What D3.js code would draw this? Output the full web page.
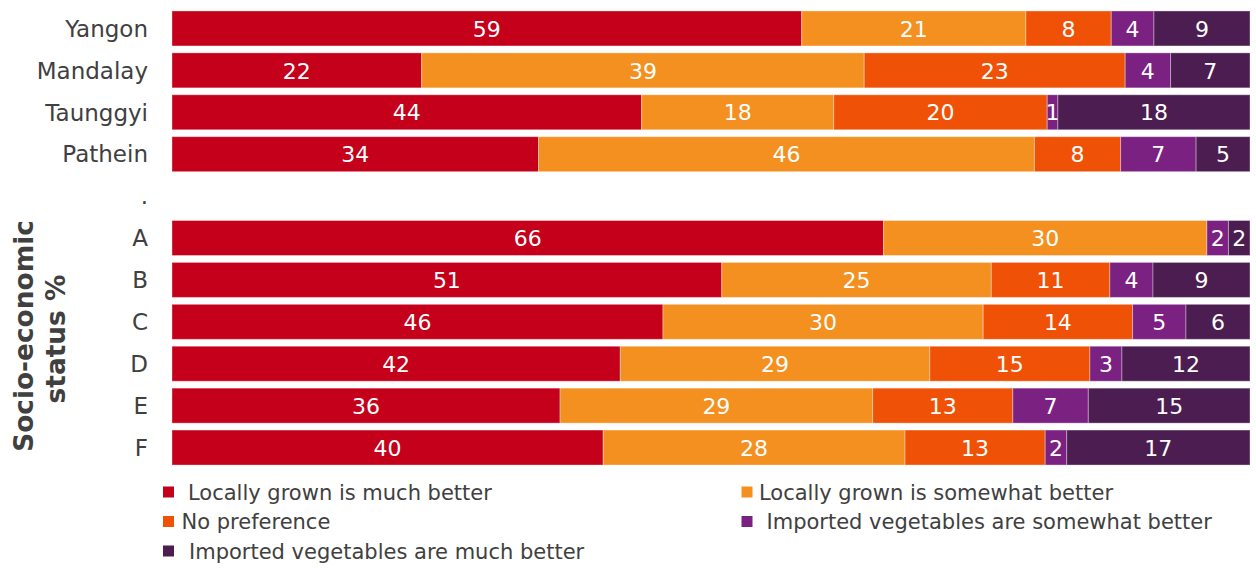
<!DOCTYPE html>
<html><head><meta charset="utf-8">
<script src="https://cdn.jsdelivr.net/npm/d3@7"></script>
<style>body{margin:0;background:#fff;} text{font-family:"DejaVu Sans",Verdana,sans-serif;}</style>
</head><body><svg id="c" width="1256" height="568"></svg>
<script>
const categories = ["Yangon","Mandalay","Taunggyi","Pathein",".","A","B","C","D","E","F"];
const seriesNames = ["Locally grown is much better","Locally grown is somewhat better","No preference","Imported vegetables are somewhat better","Imported vegetables are much better"];
const localMuch    = [59,22,44,34,null,66,51,46,42,36,40];
const localSome    = [21,39,18,46,null,30,25,30,29,29,28];
const noPref       = [8,23,20,8,null,0,11,14,15,13,13];
const importSome   = [4,4,1,7,null,2,4,5,3,7,2];
const importMuch   = [9,7,18,5,null,2,9,6,12,15,17];
const colors = ["#C4001A","#F39020","#EF5206","#7A2182","#4B1D50"];

const seriesVals = [localMuch, localSome, noPref, importSome, importMuch];
const rows = categories.map((c,i)=>{const o={cat:c}; seriesNames.forEach((s,j)=>o[s]=seriesVals[j][i]||0); o.empty = seriesVals[0][i]===null; return o;});
const svg = d3.select("#c");
const x = d3.scaleLinear().domain([0,1]).range([172,1250]);
const y = d3.scaleBand().domain(categories).range([7.5,468.5]).paddingInner(0.165).paddingOuter(0.0825);
const stack = d3.stack().keys(seriesNames).offset(d3.stackOffsetExpand);
const data = rows.filter(r=>!r.empty);
const stacked = stack(data);

const g = svg.append("g");
stacked.forEach((layer,li)=>{
  const gl = g.append("g");
  gl.selectAll("rect").data(layer.filter(d=>d[1]-d[0]>0)).join("rect")
    .attr("x",d=>x(d[0])).attr("width",d=>x(d[1])-x(d[0]))
    .attr("y",d=>y(d.data.cat)).attr("height",y.bandwidth())
    .attr("fill",colors[li]).attr("stroke","rgba(255,255,255,0.35)").attr("stroke-width",1);
  gl.selectAll("text").data(layer.filter(d=>d[1]-d[0]>0)).join("text")
    .attr("x",d=>(x(d[0])+x(d[1]))/2).attr("y",d=>y(d.data.cat)+y.bandwidth()/2)
    .attr("dy","0.37em").attr("text-anchor","middle").attr("fill","#fff")
    .attr("font-size",22).text(d=>d.data[seriesNames[li]]);
});

// category axis
const ax = svg.append("g").attr("transform","translate(148,0)")
  .call(d3.axisLeft(y).tickSize(0).tickPadding(0));
ax.select(".domain").remove();
ax.selectAll("text").attr("font-size",23).attr("fill","#404040").attr("dy","0.36em")
  .style("font-family","'DejaVu Sans',Verdana,sans-serif");

// y title
svg.append("text").attr("transform","translate(33,336) rotate(-90)")
  .attr("text-anchor","middle").attr("font-size",26.4).attr("font-weight","bold").attr("fill","#404040")
  .text("Socio-economic");
svg.append("text").attr("transform","translate(65,339) rotate(-90)")
  .attr("text-anchor","middle").attr("font-size",26.4).attr("font-weight","bold").attr("fill","#404040")
  .text("status %");

// legend
const legPos = [[163,492,188],[741.5,492,759],[163,521.5,181.5],[741.5,521.5,766.5],[163,551,189]];
legPos.forEach((p,i)=>{
  svg.append("rect").attr("x",p[0]).attr("y",p[1]-5.5).attr("width",11).attr("height",11).attr("fill",colors[i]);
  svg.append("text").attr("x",p[2]).attr("y",p[1]).attr("dy","0.36em").attr("font-size",21)
    .attr("fill","#404040").text(seriesNames[i]);
});
</script></body></html>
